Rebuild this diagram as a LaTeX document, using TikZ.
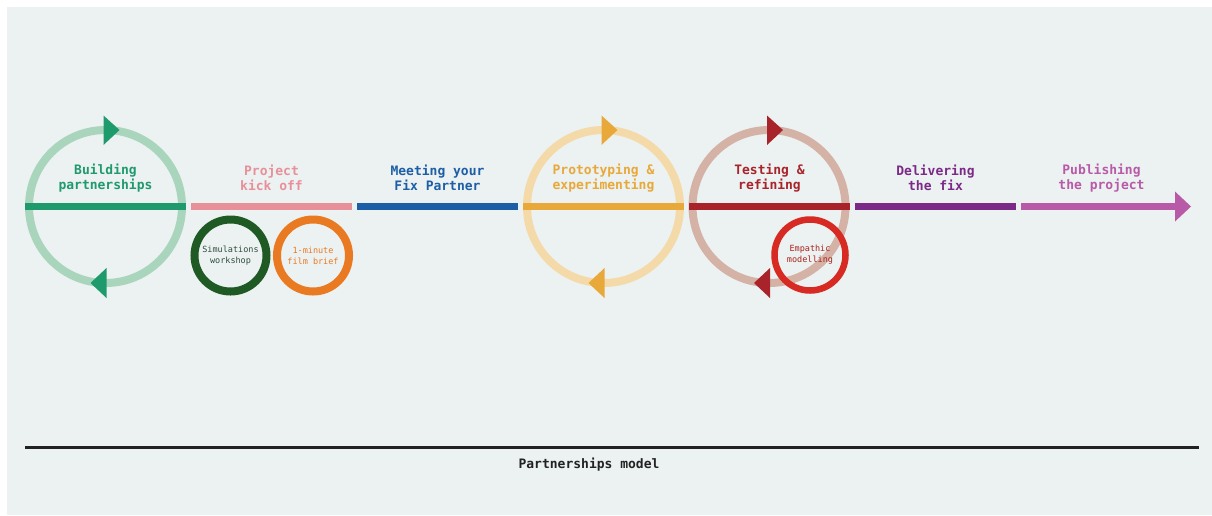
\documentclass[tikz,border=0pt]{standalone}
\usepackage{fontspec}
\newfontfamily\labelfont{DejaVu Sans Mono}
\begin{document}
\definecolor{panel}{HTML}{ECF1F1}
\definecolor{cgreen}{HTML}{1F9A6D}
\definecolor{lgreen}{HTML}{A9D5BD}
\definecolor{cpink}{HTML}{E8909A}
\definecolor{cblue}{HTML}{1D5FA6}
\definecolor{corange}{HTML}{E8A93A}
\definecolor{lorange}{HTML}{F4DAA8}
\definecolor{cred}{HTML}{A8242A}
\definecolor{lred}{HTML}{D5B2A6}
\definecolor{cpurple}{HTML}{7B2A88}
\definecolor{cmagenta}{HTML}{B85AA8}
\definecolor{dgreen}{HTML}{1F5A24}
\definecolor{dgreentext}{HTML}{2F4F3F}
\definecolor{ring2}{HTML}{E97A22}
\definecolor{ring3}{HTML}{D62A22}
\definecolor{rulecol}{HTML}{222222}
\begin{tikzpicture}[x=1pt,y=-1pt,
  seg/.style={line width=7pt},
  loopring/.style={line width=8pt},
  lbl/.style={font=\labelfont\bfseries\fontsize{13}{15.5}\selectfont, align=center, inner sep=0pt},
  small/.style={circle, draw, line width=8pt, minimum size=72pt, inner sep=0pt, align=center,
    font=\labelfont\fontsize{8.5}{11}\selectfont},
]
\useasboundingbox (0,0) rectangle (1212,515);
\fill[white] (0,0) rectangle (1212,515);
\fill[panel] (7,7) rectangle (1212,515);

% loop circles with arrowheads
\foreach \cx/\lc/\ac in {105.5/lgreen/cgreen, 603.5/lorange/corange, 769/lred/cred}{
  \draw[loopring, \lc] (\cx,206.5) circle[radius=76.5];
  \fill[\ac] (\cx-2,115.5) -- (\cx+14,130) -- (\cx-2,145) -- cycle;
  \fill[\ac] (\cx+1,268) -- (\cx-15,283) -- (\cx+1,298) -- cycle;
}

% timeline coordinates
\coordinate (s0a) at (25,206.5);   \coordinate (s0b) at (186,206.5);
\coordinate (s1a) at (191,206.5);  \coordinate (s1b) at (352,206.5);
\coordinate (s2a) at (357,206.5);  \coordinate (s2b) at (518,206.5);
\coordinate (s3a) at (523,206.5);  \coordinate (s3b) at (684,206.5);
\coordinate (s4a) at (689,206.5);  \coordinate (s4b) at (850,206.5);
\coordinate (s5a) at (855,206.5);  \coordinate (s5b) at (1016,206.5);
\coordinate (s6a) at (1021,206.5); \coordinate (s6b) at (1176,206.5);
\coordinate (tip) at (1191,206.5);

\draw[seg, cgreen] (s0a) -- (s0b);
\draw[seg, cpink] (s1a) -- (s1b);
\draw[seg, cblue] (s2a) -- (s2b);
\draw[seg, corange] (s3a) -- (s3b);
\draw[seg, cred] (s4a) -- (s4b);
\draw[seg, cpurple] (s5a) -- (s5b);
\draw[seg, cmagenta] (s6a) -- (s6b);
\fill[cmagenta] (1175,191.5) -- (tip) -- (1175,221.5) -- cycle;

% stage labels
\node[lbl, text=cgreen] (l0) at (105.5,178) {Building\\partnerships};
\node[lbl, text=cpink] (l1) at (271.5,178) {Project\\kick off};
\node[lbl, text=cblue] (l2) at (437.5,178) {Meeting your\\Fix Partner};
\node[lbl, text=corange] (l3) at (603.5,178) {Prototyping \&\\experimenting};
\node[lbl, text=cred] (l4) at (769.5,178) {Testing \&\\refining};
\node[lbl, text=cpurple] (l5) at (935.5,178) {Delivering\\the fix};
\node[lbl, text=cmagenta] (l6) at (1101.5,178) {Publishing\\the project};

% small activity circles
\node[small, draw=dgreen, text=dgreentext] (sim) at (230.5,255.5) {Simulations\\workshop};
\node[small, draw=ring2, text=ring2] (film) at (313,255.5) {1-minute\\film brief};
\node[small, draw=ring3, text=ring3!80!black, line width=6.5pt, minimum size=71pt] (emp) at (810,255) {Empathic\\modelling};

% bottom rule and caption
\coordinate (r0) at (25,447);
\coordinate (r1) at (1199,447);
\draw[line width=3pt, rulecol] (r0) -- (r1);
\node[lbl, text=rulecol] (cap) at (589,464.5) {Partnerships model};
\end{tikzpicture}
\end{document}
